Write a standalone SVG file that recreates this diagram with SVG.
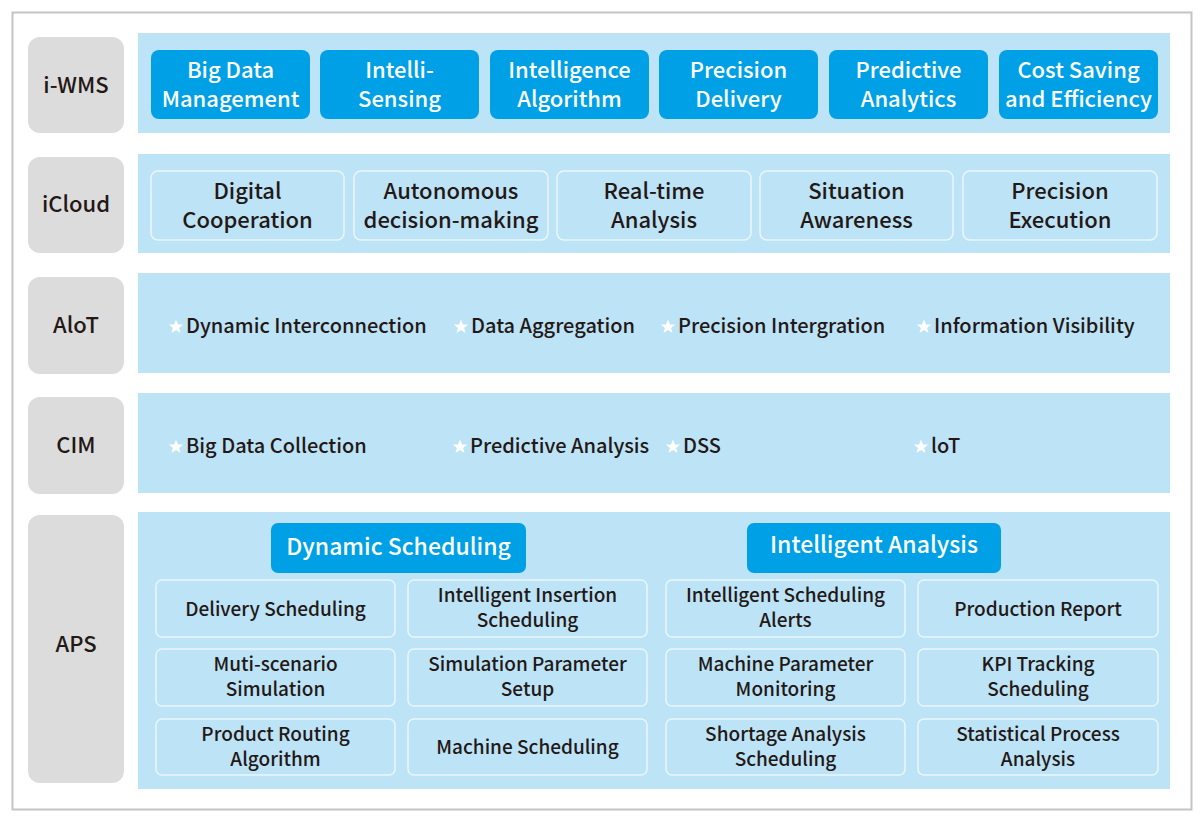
<svg xmlns="http://www.w3.org/2000/svg" width="1200" height="817" viewBox="0 0 1200 817">
<style>
text{font-family:"Noto Sans CJK SC","Noto Sans",sans-serif;font-weight:500;text-anchor:middle;fill:#231815}
.lbl{fill:#dcdcdc}
.band{fill:#bde3f7}
.dk{fill:#00a0e6}
.lt{fill:#bde3f7;stroke:#eaf6fd;stroke-width:1.5}
.w{fill:#ffffff}
.h{font-size:22px}
.hh{font-size:23px}
.c{font-size:22px}
.s{font-size:19px}
.st{font-size:20px;text-anchor:start}
.L{font-size:22px}
</style>
<defs>
<path id="star" d="M0,-7.5 L2,-2.5 L7.2,-2.4 L3.1,0.9 L4.5,6.1 L0,3.1 L-4.5,6.1 L-3.1,0.9 L-7.2,-2.4 L-2,-2.5 Z" fill="#ffffff"/>
</defs>
<rect x="12.5" y="12.5" width="1179" height="797" fill="#ffffff" stroke="#c4c4c4" stroke-width="2"/>
<g id="connectors"></g>

<g id="layer-iwms">
<rect class="lbl" x="28" y="37" width="96" height="96" rx="12"/>
<text class="L" x="76" y="93">i-WMS</text>
<rect class="band" x="138" y="33" width="1032" height="100"/>
</g>
<g id="iwms-1"><rect class="dk" x="151" y="50" width="159" height="69" rx="8"/><text class="h w" x="230.5" y="78">Big Data</text><text class="h w" x="230.5" y="107">Management</text></g>
<g id="iwms-2"><rect class="dk" x="320" y="50" width="159" height="69" rx="8"/><text class="h w" x="399.5" y="78">Intelli-</text><text class="h w" x="399.5" y="107">Sensing</text></g>
<g id="iwms-3"><rect class="dk" x="490" y="50" width="159" height="69" rx="8"/><text class="h w" x="569.5" y="78">Intelligence</text><text class="h w" x="569.5" y="107">Algorithm</text></g>
<g id="iwms-4"><rect class="dk" x="659" y="50" width="159" height="69" rx="8"/><text class="h w" x="738.5" y="78">Precision</text><text class="h w" x="738.5" y="107">Delivery</text></g>
<g id="iwms-5"><rect class="dk" x="829" y="50" width="159" height="69" rx="8"/><text class="h w" x="908.5" y="78">Predictive</text><text class="h w" x="908.5" y="107">Analytics</text></g>
<g id="iwms-6"><rect class="dk" x="999" y="50" width="159" height="69" rx="8"/><text class="h w" x="1078.5" y="78">Cost Saving</text><text class="h w" x="1078.5" y="107">and Efficiency</text></g>

<g id="layer-icloud">
<rect class="lbl" x="28" y="157" width="96" height="96" rx="12"/>
<text class="L" x="76" y="212">iCloud</text>
<rect class="band" x="138" y="154" width="1032" height="99"/>
</g>
<g id="icloud-1"><rect class="lt" x="151" y="171" width="193" height="69" rx="7"/><text class="c" x="247.5" y="199">Digital</text><text class="c" x="247.5" y="228">Cooperation</text></g>
<g id="icloud-2"><rect class="lt" x="354" y="171" width="194" height="69" rx="7"/><text class="c" x="451" y="199">Autonomous</text><text class="c" x="451" y="228">decision-making</text></g>
<g id="icloud-3"><rect class="lt" x="557" y="171" width="194" height="69" rx="7"/><text class="c" x="654" y="199">Real-time</text><text class="c" x="654" y="228">Analysis</text></g>
<g id="icloud-4"><rect class="lt" x="760" y="171" width="193" height="69" rx="7"/><text class="c" x="856.5" y="199">Situation</text><text class="c" x="856.5" y="228">Awareness</text></g>
<g id="icloud-5"><rect class="lt" x="963" y="171" width="194" height="69" rx="7"/><text class="c" x="1060" y="199">Precision</text><text class="c" x="1060" y="228">Execution</text></g>

<g id="layer-aiot">
<rect class="lbl" x="28" y="277" width="96" height="97" rx="12"/>
<text class="L" x="76" y="333">AloT</text>
<rect class="band" x="138" y="273" width="1032" height="100"/>
<use href="#star" x="176" y="327"/><text class="st" x="186" y="333">Dynamic Interconnection</text>
<use href="#star" x="461" y="327"/><text class="st" x="471" y="333">Data Aggregation</text>
<use href="#star" x="668" y="327"/><text class="st" x="678" y="333">Precision Intergration</text>
<use href="#star" x="924" y="327"/><text class="st" x="934" y="333">Information Visibility</text>
</g>

<g id="layer-cim">
<rect class="lbl" x="28" y="397" width="96" height="97" rx="12"/>
<text class="L" x="76" y="453">CIM</text>
<rect class="band" x="138" y="393" width="1032" height="100"/>
<use href="#star" x="176" y="447"/><text class="st" x="186" y="453">Big Data Collection</text>
<use href="#star" x="460" y="447"/><text class="st" x="470" y="453">Predictive Analysis</text>
<use href="#star" x="673" y="447"/><text class="st" x="683" y="453">DSS</text>
<use href="#star" x="921" y="447"/><text class="st" x="931" y="453">loT</text>
</g>

<g id="layer-aps">
<rect class="lbl" x="28" y="515" width="96" height="268" rx="12"/>
<text class="L" x="76" y="652">APS</text>
<rect class="band" x="138" y="512" width="1032" height="277"/>
</g>
<g id="aps-dynamic"><rect class="dk" x="271" y="523" width="255" height="50" rx="7"/><text class="hh w" x="398.5" y="555">Dynamic Scheduling</text></g>
<g id="aps-intelligent"><rect class="dk" x="747" y="523" width="254" height="50" rx="7"/><text class="hh w" x="874" y="553">Intelligent Analysis</text></g>

<g id="aps-1"><rect class="lt" x="156" y="580" width="239" height="57" rx="6"/><text class="s" x="275.5" y="616">Delivery Scheduling</text></g>
<g id="aps-2"><rect class="lt" x="408" y="580" width="239" height="57" rx="6"/><text class="s" x="527.5" y="602">Intelligent Insertion</text><text class="s" x="527.5" y="627">Scheduling</text></g>
<g id="aps-3"><rect class="lt" x="666" y="580" width="239" height="57" rx="6"/><text class="s" x="785.5" y="602">Intelligent Scheduling</text><text class="s" x="785.5" y="627">Alerts</text></g>
<g id="aps-4"><rect class="lt" x="918" y="580" width="240" height="57" rx="6"/><text class="s" x="1038" y="616">Production Report</text></g>

<g id="aps-5"><rect class="lt" x="156" y="649" width="239" height="57" rx="6"/><text class="s" x="275.5" y="671">Muti-scenario</text><text class="s" x="275.5" y="696">Simulation</text></g>
<g id="aps-6"><rect class="lt" x="408" y="649" width="239" height="57" rx="6"/><text class="s" x="527.5" y="671">Simulation Parameter</text><text class="s" x="527.5" y="696">Setup</text></g>
<g id="aps-7"><rect class="lt" x="666" y="649" width="239" height="57" rx="6"/><text class="s" x="785.5" y="671">Machine Parameter</text><text class="s" x="785.5" y="696">Monitoring</text></g>
<g id="aps-8"><rect class="lt" x="918" y="649" width="240" height="57" rx="6"/><text class="s" x="1038" y="671">KPI Tracking</text><text class="s" x="1038" y="696">Scheduling</text></g>

<g id="aps-9"><rect class="lt" x="156" y="719" width="239" height="56" rx="6"/><text class="s" x="275.5" y="741">Product Routing</text><text class="s" x="275.5" y="766">Algorithm</text></g>
<g id="aps-10"><rect class="lt" x="408" y="719" width="239" height="56" rx="6"/><text class="s" x="527.5" y="754">Machine Scheduling</text></g>
<g id="aps-11"><rect class="lt" x="666" y="719" width="239" height="56" rx="6"/><text class="s" x="785.5" y="741">Shortage Analysis</text><text class="s" x="785.5" y="766">Scheduling</text></g>
<g id="aps-12"><rect class="lt" x="918" y="719" width="240" height="56" rx="6"/><text class="s" x="1038" y="741">Statistical Process</text><text class="s" x="1038" y="766">Analysis</text></g>
</svg>
